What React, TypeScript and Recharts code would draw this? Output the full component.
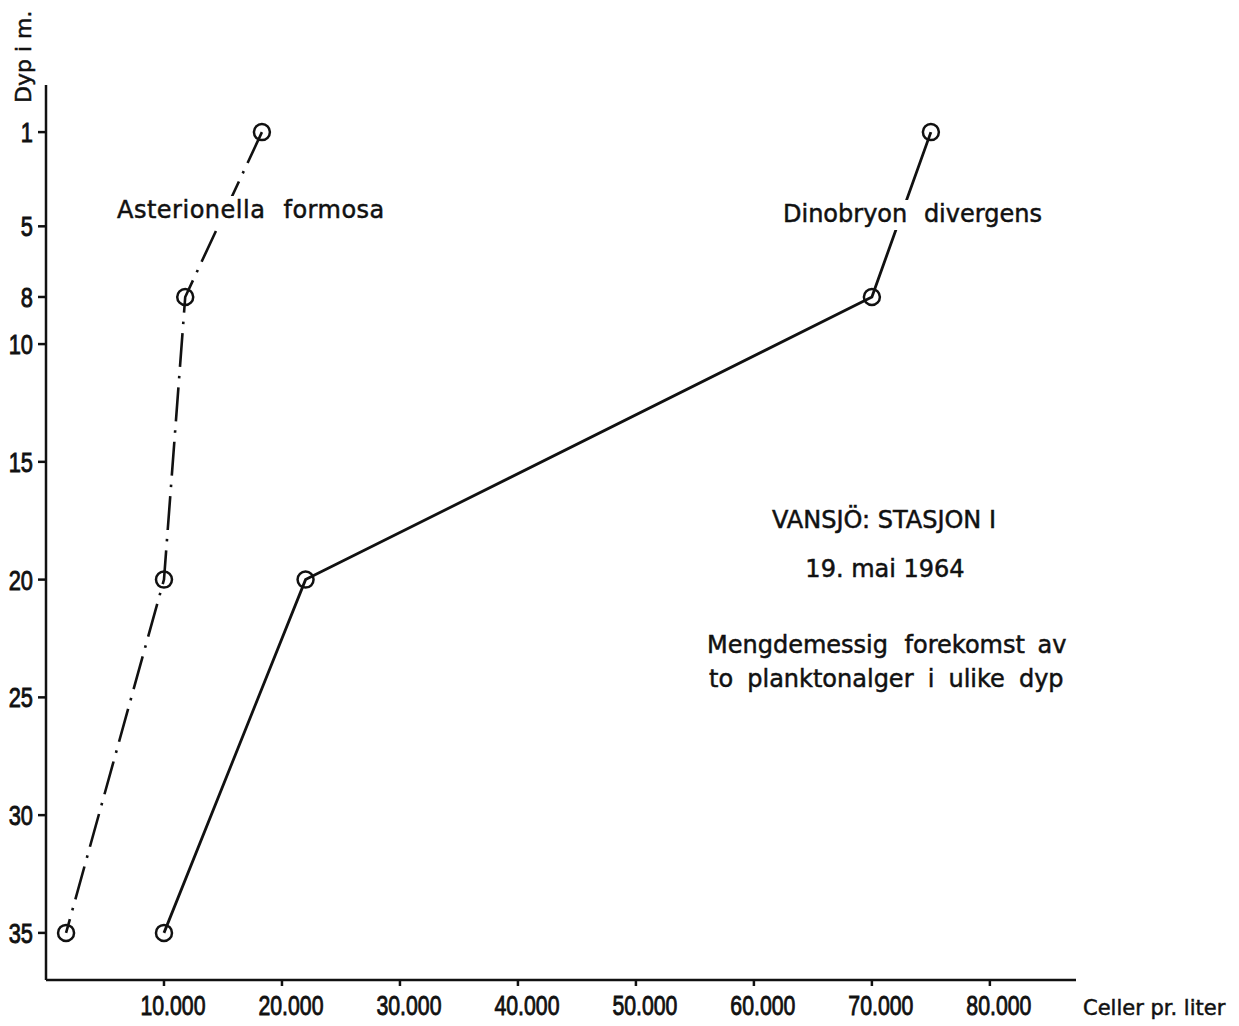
import React from 'react';
import { ScatterChart, Scatter, XAxis, YAxis } from 'recharts';

const depthM = [1, 8, 20, 35];
const asterionellaCells = [18300, 11800, 10000, 1700];
const dinobryonCells = [75000, 70000, 22000, 10000];
const depthTicks = [1, 5, 8, 10, 15, 20, 25, 30, 35];
const cellTicks = [10000, 20000, 30000, 40000, 50000, 60000, 70000, 80000];

const astData = depthM.map((d, i) => ({ depth: d, cells: asterionellaCells[i] }));
const dinoData = depthM.map((d, i) => ({ depth: d, cells: dinobryonCells[i] }));

const INK = '#111';
const LABEL_FONT = '"DejaVu Sans", sans-serif';
const TICK_FONT = '"Liberation Sans", Arial, sans-serif';

const fmtCells = (v: number) => `${v / 1000}.000`;

const XTick = (props: any) => {
  const { x, y, payload } = props;
  return (
    <text
      transform={`translate(${x + 9}, ${y + 27}) scale(0.76, 1)`}
      x={0}
      y={0}
      textAnchor="middle"
      fontFamily={TICK_FONT}
      fontSize={28}
      fill={INK}
      stroke={INK}
      strokeWidth={0.9}
    >
      {fmtCells(payload.value)}
    </text>
  );
};

const YTick = (props: any) => {
  const { x, y, payload } = props;
  return (
    <text
      transform={`translate(${x}, ${y + 10}) scale(0.78, 1)`}
      x={0}
      y={0}
      textAnchor="end"
      fontFamily={TICK_FONT}
      fontSize={28}
      fill={INK}
      stroke={INK}
      strokeWidth={0.9}
    >
      {payload.value}
    </text>
  );
};

const Circle = (props: any) => {
  const { cx, cy } = props;
  return <circle cx={cx} cy={cy} r={8} fill="none" stroke={INK} strokeWidth={2.5} />;
};

const Annotations = () => (
  <svg
    width={1239}
    height={1026}
    style={{ position: 'absolute', left: 0, top: 0, pointerEvents: 'none' }}
  >
    <g fontFamily={LABEL_FONT} fill={INK} stroke={INK} strokeWidth={0.5}>
      <rect x={112} y={196} width={280} height={33} fill="#fff" stroke="none" />
      <text x={117} y={218} fontSize={24} letterSpacing={0.5}>
        {'Asterionella '}<tspan dx={10}>formosa</tspan>
      </text>
      <rect x={778} y={200} width={268} height={30} fill="#fff" stroke="none" />
      <text x={783} y={222} fontSize={24}>
        {'Dinobryon '}<tspan dx={9}>divergens</tspan>
      </text>
      <text x={884} y={528} fontSize={24} textAnchor="middle">VANSJÖ: STASJON I</text>
      <text x={885} y={577} fontSize={24} textAnchor="middle">19. mai 1964</text>
      <text x={707} y={653} fontSize={24}>
        {'Mengdemessig '}<tspan dx={9}>{'forekomst '}</tspan><tspan dx={5}>av</tspan>
      </text>
      <text x={709} y={687} fontSize={24}>
        {'to '}<tspan dx={6.5}>{'planktonalger '}</tspan><tspan dx={6.5}>{'i '}</tspan><tspan dx={6.5}>{'ulike '}</tspan><tspan dx={6.5}>dyp</tspan>
      </text>
      <text x={1083} y={1015} fontSize={21}>Celler pr. liter</text>
      <text transform="translate(31, 103) rotate(-90)" x={0} y={0} fontSize={22}>Dyp i m.</text>
    </g>
  </svg>
);

export default function App() {
  return (
    <div style={{ position: 'absolute', left: 0, top: 0, width: 1239, height: 1026, background: '#fff' }}>
      <ScatterChart
        width={1239}
        height={1026}
        margin={{ top: 85, right: 163, bottom: 16, left: 0 }}
      >
        <XAxis
          type="number"
          dataKey="cells"
          domain={[0, 87300]}
          ticks={cellTicks}
          allowDataOverflow
          height={30}
          tickSize={6}
          tickMargin={2}
          tick={<XTick />}
          axisLine={{ stroke: INK, strokeWidth: 2.5 }}
          tickLine={{ stroke: INK, strokeWidth: 2.5 }}
        />
        <YAxis
          type="number"
          dataKey="depth"
          domain={[-1, 37]}
          reversed
          ticks={depthTicks}
          allowDataOverflow
          width={46}
          tickSize={8}
          tickMargin={5}
          tick={<YTick />}
          axisLine={{ stroke: INK, strokeWidth: 2.5 }}
          tickLine={{ stroke: INK, strokeWidth: 2.5 }}
        />
        <Scatter
          name="Dinobryon divergens"
          data={dinoData}
          fill={INK}
          line={{ stroke: INK, strokeWidth: 2.8 }}
          shape={<Circle />}
          isAnimationActive={false}
        />
        <Scatter
          name="Asterionella formosa"
          data={astData}
          fill={INK}
          line={{ stroke: INK, strokeWidth: 2.6, strokeDasharray: '34 9 2.5 9' }}
          shape={<Circle />}
          isAnimationActive={false}
        />
      </ScatterChart>
      <Annotations />
    </div>
  );
}
